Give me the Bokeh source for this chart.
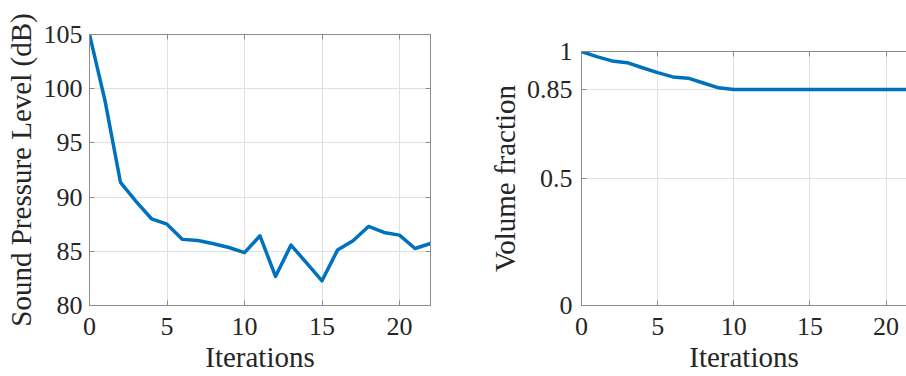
from bokeh.plotting import figure
from bokeh.models import Range1d, FixedTicker, LinearAxis, NumeralTickFormatter
from bokeh.layouts import row
from bokeh.embed import file_html
from bokeh.resources import INLINE

# ---------------- data ----------------
iterations = [0, 1, 2, 3, 4, 5, 6, 7, 8, 9, 10, 11, 12, 13, 14, 15, 16, 17, 18, 19, 20, 21, 22]
spl_db = [105.0, 98.9, 91.35, 89.6, 88.0, 87.5, 86.1, 86.0, 85.7, 85.35, 84.88,
          86.43, 82.68, 85.57, 83.94, 82.28, 85.11, 85.97, 87.29, 86.74, 86.49, 85.26, 85.72]
volume_fraction = [1.0, 0.980, 0.963, 0.956, 0.936, 0.917, 0.900, 0.895, 0.876, 0.857, 0.850,
                   0.850, 0.850, 0.850, 0.850, 0.850, 0.850, 0.850, 0.850, 0.850, 0.850, 0.850, 0.850]
x_ticks = [0, 5, 10, 15, 20]
spl_ticks = [80, 85, 90, 95, 100, 105]
vol_ticks = [0, 0.5, 0.85, 1]
x_label = "Iterations"
spl_label = "Sound Pressure Level (dB)"
vol_label = "Volume fraction"

# ---------------- style ----------------
FONT = "Liberation Serif"
TEXT = "#262626"
AXIS = "#8c8c8c"
GRID = "#e0e0e0"
LINE = "#0072BD"
TICK_FS = "26px"
LABEL_FS = "29px"


def style_axis(ax, ticks, standoff, show_labels=True):
    ax.ticker = FixedTicker(ticks=ticks)
    ax.major_tick_in = 5
    ax.major_tick_out = 0
    ax.minor_tick_in = 0
    ax.minor_tick_out = 0
    ax.axis_line_color = AXIS
    ax.axis_line_width = 1
    ax.major_tick_line_color = AXIS
    ax.major_label_text_font = FONT
    if show_labels:
        ax.major_label_text_color = TEXT
        ax.major_label_text_font_size = TICK_FS
        ax.major_label_text_line_height = 1.0
        ax.major_label_standoff = standoff
        ax.axis_label_text_font = FONT
        ax.axis_label_text_font_size = LABEL_FS
        ax.axis_label_text_font_style = "normal"
        ax.axis_label_text_line_height = 1.0
        ax.axis_label_text_color = TEXT
    else:
        ax.major_label_text_color = None
        ax.major_label_text_font_size = "1px"
        ax.major_label_standoff = 0


def base_fig(width, x_end, y_start, y_end, bl, br, bt, bb):
    p = figure(width=width, height=376, output_backend="svg", toolbar_location=None,
               x_range=Range1d(0, x_end), y_range=Range1d(y_start, y_end),
               min_border_left=bl, min_border_right=br, min_border_top=bt, min_border_bottom=bb)
    if "frame_align" in p.properties():
        p.frame_align = False
    p.background_fill_color = "white"
    p.border_fill_color = "white"
    p.xgrid.ticker = FixedTicker(ticks=x_ticks)
    p.xgrid.grid_line_color = GRID
    p.ygrid.grid_line_color = GRID
    return p


# ---------------- left: SPL ----------------
p1 = base_fig(460, 22, 80, 105, 89, 30, 34, 71)
p1.ygrid.ticker = FixedTicker(ticks=spl_ticks)
p1.outline_line_color = AXIS
style_axis(p1.xaxis[0], x_ticks, 12)
style_axis(p1.yaxis[0], spl_ticks, 7)
p1.xaxis[0].axis_label = x_label
p1.xaxis[0].axis_label_standoff = 3
p1.yaxis[0].axis_label = spl_label
p1.yaxis[0].axis_label_standoff = 4
top1 = LinearAxis()
style_axis(top1, x_ticks, 0, show_labels=False)
p1.add_layout(top1, "above")
right1 = LinearAxis()
style_axis(right1, spl_ticks, 0, show_labels=False)
p1.add_layout(right1, "right")
p1.line(iterations, spl_db, line_color=LINE, line_width=3.5, line_join="round")

# ---------------- right: volume fraction ----------------
p2 = base_fig(446, 21.34, 0, 1, 121, 0, 51, 71)
p2.ygrid.ticker = FixedTicker(ticks=vol_ticks)
p2.outline_line_color = None
style_axis(p2.xaxis[0], x_ticks, 12)
style_axis(p2.yaxis[0], vol_ticks, 9)
p2.yaxis[0].formatter = NumeralTickFormatter(format="0.[00]")
p2.xaxis[0].axis_label = x_label
p2.xaxis[0].axis_label_standoff = 3
p2.yaxis[0].axis_label = vol_label
p2.yaxis[0].axis_label_standoff = 3
top2 = LinearAxis()
style_axis(top2, x_ticks, 0, show_labels=False)
p2.add_layout(top2, "above")
p2.line(iterations, volume_fraction, line_color=LINE, line_width=3.5, line_join="round")

layout = row(p1, p2)
open("out.html", "w").write(file_html(layout, INLINE))
